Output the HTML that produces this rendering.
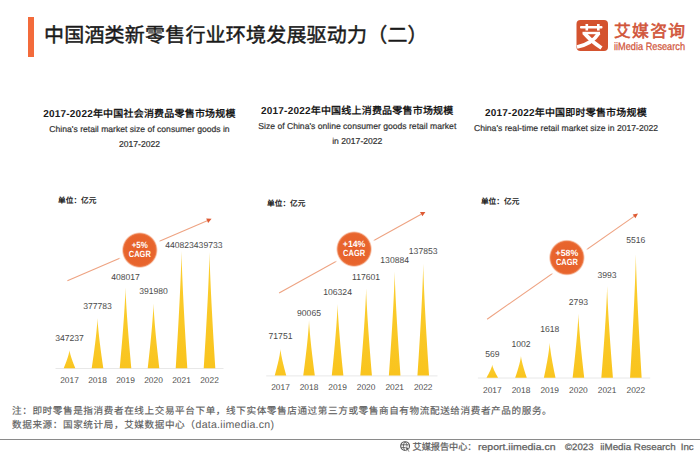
<!DOCTYPE html>
<html lang="zh-CN"><head><meta charset="utf-8">
<style>
html,body{margin:0;padding:0;background:#fff;}
body{width:700px;height:455px;overflow:hidden;position:relative;font-family:"Liberation Sans",sans-serif;text-rendering:geometricPrecision;}
svg{position:absolute;left:0;top:0;}
text{font-family:"Liberation Sans",sans-serif;}
.lab{font-size:8.6px;fill:#4a4a4a;}
.yr{font-size:8.4px;fill:#4a4a4a;}
.cg{font-size:9px;font-weight:bold;fill:#fff;}
.unit{font-size:7.7px;font-weight:bold;fill:#222;}
.t{position:absolute;white-space:nowrap;}
#bar{position:absolute;left:28px;top:17px;width:5.8px;height:40px;background:#f36b3b;}
#title{left:44px;top:23.8px;font-size:20px;font-weight:400;-webkit-text-stroke:0.45px #1a1a1a;letter-spacing:0.2px;color:#1a1a1a;line-height:24px;}
.ct{position:absolute;text-align:center;white-space:nowrap;color:#222;}
.ct b{display:block;font-size:10px;font-weight:bold;line-height:14px;color:#1a1a1a;letter-spacing:0.2px;}
.ct span{display:block;font-size:8.6px;line-height:15.5px;color:#333;-webkit-text-stroke:0.2px #333;}
.note{left:12px;font-size:9.6px;line-height:14.5px;color:#5c5c5c;letter-spacing:0.6px;-webkit-text-stroke:0.15px #5c5c5c;}
.note i{line-height:8px;font-style:normal;font-size:10.6px;letter-spacing:0.25px;-webkit-text-stroke:0;}
#hr{position:absolute;left:0;top:438.5px;width:700px;height:1.5px;background:#8a8a8a;}
.ft{font-size:9.2px;fill:#606060;stroke:#606060;stroke-width:0.25px;}
.lg{fill:#d1553a;stroke:#d1553a;}
</style></head><body>
<div id="bar"></div>
<div class="t" id="title">中国酒类新零售行业环境发展驱动力（二）</div>
<div class="ct" style="left:39.5px;top:107.7px;width:200px;"><b>2017-2022年中国社会消费品零售市场规模</b><span>China's retail market size of consumer goods in<br>2017-2022</span></div>
<div class="ct" style="left:257.3px;top:104.6px;width:200px;"><b>2017-2022年中国线上消费品零售市场规模</b><span>Size of China's online consumer goods retail market<br>in 2017-2022</span></div>
<div class="ct" style="left:466px;top:106.7px;width:200px;"><b>2017-2022年中国即时零售市场规模</b><span>China's real-time retail market size in 2017-2022</span></div>
<div class="t note" style="top:404.9px">注：即时零售是指消费者在线上交易平台下单，线下实体零售店通过第三方或零售商自有物流配送给消费者产品的服务。</div><div class="t note" style="top:419.4px">数据来源：国家统计局，艾媒数据中心（<i>data.iimedia.cn)</i></div>
<div id="hr"></div>
<svg width="700" height="455" viewBox="0 0 700 455">
<defs>
<linearGradient id="yg" x1="0" y1="0" x2="0" y2="1"><stop offset="0" stop-color="#fbce30"/><stop offset="1" stop-color="#f9c41e"/></linearGradient>
<radialGradient id="og" cx="0.5" cy="0.5" r="0.5"><stop offset="0" stop-color="#e6602a"/><stop offset="0.84" stop-color="#e8652d"/><stop offset="0.9" stop-color="#ec7845"/><stop offset="1" stop-color="#f7c2a8" stop-opacity="0"/></radialGradient>
<radialGradient id="wh" cx="0.5" cy="0.5" r="0.5"><stop offset="0.9" stop-color="#fff"/><stop offset="1" stop-color="#fff" stop-opacity="0"/></radialGradient>
</defs>
<!-- logo -->
<rect x="576.5" y="20" width="31.5" height="31" rx="4" fill="#d4532f"/>
<rect x="580" y="26" width="22.5" height="2.6" rx="1" fill="#fff"/>
<rect x="585.5" y="24" width="2.6" height="6.5" fill="#fff"/>
<rect x="597" y="24" width="2.6" height="6.5" fill="#fff"/>
<path d="M582.5,33 L600,33" stroke="#fff" stroke-width="2.4" fill="none"/>
<path d="M584,33 Q592,42 601.5,48" stroke="#fff" stroke-width="3.8" fill="none"/>
<path d="M599,33 Q592,44 577,47" stroke="#fff" stroke-width="3.6" fill="none"/>
<text x="614" y="37.3" class="lg" stroke-width="0.6" font-size="16.8" textLength="71" lengthAdjust="spacing">艾媒咨询</text>
<text x="614" y="49.7" class="lg" stroke-width="0.25" font-size="10.8" textLength="71" lengthAdjust="spacingAndGlyphs">iiMedia Research</text>
<!-- footer -->
<g transform="translate(400,441.2)" fill="none" stroke="#5a5a5a" stroke-width="1.15">
<circle cx="5.1" cy="4.9" r="4.4"/><path d="M1,3.6 H8.5 M1.2,6.4 H6 M5.1,0.6 C2.8,3 2.8,7 5.1,9.2 M5.1,0.6 C7,2.5 7.2,4.5 6.8,5.5" stroke-width="0.9"/>
<path d="M5.6,5.2 L10.2,7.6 L8.2,8.3 L9.6,10.2 L8.8,10.7 L7.4,8.9 L6.2,10.2 Z" fill="#5a5a5a" stroke="#fff" stroke-width="0.5"/>
</g>
<text x="412.5" y="449.5" class="ft" textLength="64" lengthAdjust="spacingAndGlyphs">艾媒报告中心：</text>
<text x="478" y="449.5" class="ft" textLength="77.5" lengthAdjust="spacingAndGlyphs">report.iimedia.cn</text>
<text x="565" y="449.5" class="ft" textLength="28.5" lengthAdjust="spacingAndGlyphs">©2023</text>
<text x="600.2" y="449.5" class="ft" textLength="75.5" lengthAdjust="spacingAndGlyphs">iiMedia Research</text>
<text x="680.7" y="449.5" class="ft" textLength="13" lengthAdjust="spacingAndGlyphs">Inc</text>
<line x1="55.5" y1="368.5" x2="223.5" y2="368.5" stroke="#e8e8e8" stroke-width="1"/>
<path d="M75.30,368.20 L74.83,367.07 L74.38,365.95 L73.93,364.82 L73.49,363.70 L73.06,362.57 L72.65,361.45 L72.25,360.32 L71.86,359.20 L71.48,358.07 L71.12,356.95 L70.78,355.82 L70.46,354.70 L70.16,353.57 L69.89,352.45 L69.66,351.32 L69.50,350.20 L69.34,351.32 L69.11,352.45 L68.84,353.57 L68.54,354.70 L68.22,355.82 L67.88,356.95 L67.52,358.07 L67.14,359.20 L66.75,360.32 L66.35,361.45 L65.94,362.57 L65.51,363.70 L65.07,364.82 L64.62,365.95 L64.17,367.07 L63.70,368.20 Z" fill="url(#yg)"/>
<text x="69.5" y="341.4" class="lab" text-anchor="middle">347237</text>
<text x="69.5" y="382.9" class="yr" text-anchor="middle">2017</text>
<path d="M103.30,368.20 L102.83,365.07 L102.38,361.95 L101.93,358.82 L101.49,355.70 L101.06,352.57 L100.65,349.45 L100.25,346.32 L99.86,343.20 L99.48,340.07 L99.12,336.95 L98.78,333.82 L98.46,330.70 L98.16,327.57 L97.89,324.45 L97.66,321.32 L97.50,318.20 L97.34,321.32 L97.11,324.45 L96.84,327.57 L96.54,330.70 L96.22,333.82 L95.88,336.95 L95.52,340.07 L95.14,343.20 L94.75,346.32 L94.35,349.45 L93.94,352.57 L93.51,355.70 L93.07,358.82 L92.62,361.95 L92.17,365.07 L91.70,368.20 Z" fill="url(#yg)"/>
<text x="97.5" y="309.0" class="lab" text-anchor="middle">377783</text>
<text x="97.5" y="382.9" class="yr" text-anchor="middle">2018</text>
<path d="M131.30,368.20 L130.83,363.16 L130.38,358.12 L129.93,353.09 L129.49,348.05 L129.06,343.01 L128.65,337.98 L128.25,332.94 L127.86,327.90 L127.48,322.86 L127.12,317.82 L126.78,312.79 L126.46,307.75 L126.16,302.71 L125.89,297.68 L125.66,292.64 L125.50,287.60 L125.34,292.64 L125.11,297.68 L124.84,302.71 L124.54,307.75 L124.22,312.79 L123.88,317.82 L123.52,322.86 L123.14,327.90 L122.75,332.94 L122.35,337.98 L121.94,343.01 L121.51,348.05 L121.07,353.09 L120.62,358.12 L120.17,363.16 L119.70,368.20 Z" fill="url(#yg)"/>
<text x="125.5" y="280.1" class="lab" text-anchor="middle">408017</text>
<text x="125.5" y="382.9" class="yr" text-anchor="middle">2019</text>
<path d="M159.30,368.20 L158.83,364.16 L158.38,360.12 L157.93,356.09 L157.49,352.05 L157.06,348.01 L156.65,343.98 L156.25,339.94 L155.86,335.90 L155.48,331.86 L155.12,327.82 L154.78,323.79 L154.46,319.75 L154.16,315.71 L153.89,311.68 L153.66,307.64 L153.50,303.60 L153.34,307.64 L153.11,311.68 L152.84,315.71 L152.54,319.75 L152.22,323.79 L151.88,327.82 L151.52,331.86 L151.14,335.90 L150.75,339.94 L150.35,343.98 L149.94,348.01 L149.51,352.05 L149.07,356.09 L148.62,360.12 L148.17,364.16 L147.70,368.20 Z" fill="url(#yg)"/>
<text x="153.5" y="293.5" class="lab" text-anchor="middle">391980</text>
<text x="153.5" y="382.9" class="yr" text-anchor="middle">2020</text>
<path d="M187.30,368.20 L186.83,360.88 L186.38,353.55 L185.93,346.22 L185.49,338.90 L185.06,331.57 L184.65,324.25 L184.25,316.93 L183.86,309.60 L183.48,302.27 L183.12,294.95 L182.78,287.62 L182.46,280.30 L182.16,272.98 L181.89,265.65 L181.66,258.32 L181.50,251.00 L181.34,258.32 L181.11,265.65 L180.84,272.98 L180.54,280.30 L180.22,287.62 L179.88,294.95 L179.52,302.27 L179.14,309.60 L178.75,316.93 L178.35,324.25 L177.94,331.57 L177.51,338.90 L177.07,346.22 L176.62,353.55 L176.17,360.88 L175.70,368.20 Z" fill="url(#yg)"/>
<text x="179.5" y="247.9" class="lab" text-anchor="middle">440823</text>
<text x="181.5" y="382.9" class="yr" text-anchor="middle">2021</text>
<path d="M215.30,368.20 L214.83,360.94 L214.38,353.68 L213.93,346.41 L213.49,339.15 L213.06,331.89 L212.65,324.62 L212.25,317.36 L211.86,310.10 L211.48,302.84 L211.12,295.57 L210.78,288.31 L210.46,281.05 L210.16,273.79 L209.89,266.52 L209.66,259.26 L209.50,252.00 L209.34,259.26 L209.11,266.52 L208.84,273.79 L208.54,281.05 L208.22,288.31 L207.88,295.57 L207.52,302.84 L207.14,310.10 L206.75,317.36 L206.35,324.62 L205.94,331.89 L205.51,339.15 L205.07,346.41 L204.62,353.68 L204.17,360.94 L203.70,368.20 Z" fill="url(#yg)"/>
<text x="208.2" y="247.9" class="lab" text-anchor="middle">439733</text>
<text x="209.5" y="382.9" class="yr" text-anchor="middle">2022</text>
<line x1="67.4" y1="280.7" x2="207.2" y2="220.7" stroke="#eea382" stroke-width="1.1"/>
<path d="M211.6,218.8 L208.1,222.9 L206.2,218.5 Z" fill="#de5a33"/>
<circle cx="139.8" cy="250.1" r="23" fill="url(#wh)"/>
<circle cx="139.8" cy="250.1" r="18.2" fill="url(#og)"/>
<text x="139.8" y="248.3" class="cg" text-anchor="middle" textLength="16.2" lengthAdjust="spacingAndGlyphs">+5%</text>
<text x="139.8" y="257.4" class="cg" text-anchor="middle" textLength="22" lengthAdjust="spacingAndGlyphs">CAGR</text>
<text x="58.0" y="202.9" class="unit">单位：亿元</text>
<line x1="266.2" y1="375.9" x2="437.5" y2="375.9" stroke="#e8e8e8" stroke-width="1"/>
<path d="M286.27,375.60 L285.81,373.94 L285.35,372.27 L284.90,370.61 L284.47,368.95 L284.04,367.29 L283.62,365.62 L283.22,363.96 L282.83,362.30 L282.46,360.64 L282.10,358.97 L281.75,357.31 L281.43,355.65 L281.13,353.99 L280.86,352.32 L280.63,350.66 L280.47,349.00 L280.32,350.66 L280.09,352.32 L279.82,353.99 L279.52,355.65 L279.20,357.31 L278.85,358.97 L278.49,360.64 L278.12,362.30 L277.73,363.96 L277.33,365.62 L276.91,367.29 L276.48,368.95 L276.05,370.61 L275.60,372.27 L275.14,373.94 L274.67,375.60 Z" fill="url(#yg)"/>
<text x="280.5" y="339.3" class="lab" text-anchor="middle">71751</text>
<text x="280.5" y="390.3" class="yr" text-anchor="middle">2017</text>
<path d="M314.82,375.60 L314.36,372.14 L313.90,368.67 L313.45,365.21 L313.02,361.75 L312.59,358.29 L312.17,354.82 L311.77,351.36 L311.38,347.90 L311.01,344.44 L310.65,340.97 L310.30,337.51 L309.98,334.05 L309.68,330.59 L309.41,327.12 L309.18,323.66 L309.02,320.20 L308.87,323.66 L308.64,327.12 L308.37,330.59 L308.07,334.05 L307.75,337.51 L307.40,340.97 L307.04,344.44 L306.67,347.90 L306.28,351.36 L305.88,354.82 L305.46,358.29 L305.03,361.75 L304.60,365.21 L304.15,368.67 L303.69,372.14 L303.22,375.60 Z" fill="url(#yg)"/>
<text x="309.0" y="315.8" class="lab" text-anchor="middle">90065</text>
<text x="309.0" y="390.3" class="yr" text-anchor="middle">2018</text>
<path d="M343.38,375.60 L342.91,371.12 L342.45,366.65 L342.00,362.17 L341.57,357.70 L341.14,353.22 L340.72,348.75 L340.32,344.27 L339.93,339.80 L339.56,335.32 L339.20,330.85 L338.85,326.38 L338.53,321.90 L338.23,317.43 L337.96,312.95 L337.73,308.48 L337.57,304.00 L337.42,308.48 L337.19,312.95 L336.92,317.43 L336.62,321.90 L336.30,326.38 L335.95,330.85 L335.59,335.32 L335.22,339.80 L334.83,344.27 L334.43,348.75 L334.01,353.22 L333.58,357.70 L333.15,362.17 L332.70,366.65 L332.24,371.12 L331.77,375.60 Z" fill="url(#yg)"/>
<text x="337.6" y="294.8" class="lab" text-anchor="middle">106324</text>
<text x="337.6" y="390.3" class="yr" text-anchor="middle">2019</text>
<path d="M371.93,375.60 L371.46,370.14 L371.00,364.67 L370.55,359.21 L370.12,353.75 L369.69,348.29 L369.27,342.82 L368.87,337.36 L368.48,331.90 L368.11,326.44 L367.75,320.97 L367.40,315.51 L367.08,310.05 L366.78,304.59 L366.51,299.12 L366.28,293.66 L366.12,288.20 L365.97,293.66 L365.74,299.12 L365.47,304.59 L365.17,310.05 L364.85,315.51 L364.50,320.97 L364.14,326.44 L363.77,331.90 L363.38,337.36 L362.98,342.82 L362.56,348.29 L362.13,353.75 L361.70,359.21 L361.25,364.67 L360.79,370.14 L360.32,375.60 Z" fill="url(#yg)"/>
<text x="366.1" y="279.7" class="lab" text-anchor="middle">117601</text>
<text x="366.1" y="390.3" class="yr" text-anchor="middle">2020</text>
<path d="M400.47,375.60 L400.01,369.09 L399.55,362.59 L399.10,356.08 L398.67,349.57 L398.24,343.07 L397.82,336.56 L397.42,330.06 L397.03,323.55 L396.66,317.04 L396.30,310.54 L395.95,304.03 L395.63,297.52 L395.33,291.02 L395.06,284.51 L394.83,278.01 L394.67,271.50 L394.52,278.01 L394.29,284.51 L394.02,291.02 L393.72,297.52 L393.40,304.03 L393.05,310.54 L392.69,317.04 L392.32,323.55 L391.93,330.06 L391.53,336.56 L391.11,343.07 L390.68,349.57 L390.25,356.08 L389.80,362.59 L389.34,369.09 L388.87,375.60 Z" fill="url(#yg)"/>
<text x="394.7" y="262.6" class="lab" text-anchor="middle">130884</text>
<text x="394.7" y="390.3" class="yr" text-anchor="middle">2021</text>
<path d="M429.03,375.60 L428.56,368.61 L428.10,361.62 L427.65,354.64 L427.22,347.65 L426.79,340.66 L426.37,333.67 L425.97,326.69 L425.58,319.70 L425.21,312.71 L424.85,305.73 L424.50,298.74 L424.18,291.75 L423.88,284.76 L423.61,277.77 L423.38,270.79 L423.23,263.80 L423.07,270.79 L422.84,277.77 L422.57,284.76 L422.27,291.75 L421.95,298.74 L421.60,305.73 L421.24,312.71 L420.87,319.70 L420.48,326.69 L420.08,333.67 L419.66,340.66 L419.23,347.65 L418.80,354.64 L418.35,361.62 L417.89,368.61 L417.43,375.60 Z" fill="url(#yg)"/>
<text x="423.2" y="253.8" class="lab" text-anchor="middle">137853</text>
<text x="423.2" y="390.3" class="yr" text-anchor="middle">2022</text>
<line x1="279.1" y1="293.0" x2="421.2" y2="214.2" stroke="#eea382" stroke-width="1.1"/>
<path d="M425.4,211.9 L422.4,216.3 L420.0,212.1 Z" fill="#de5a33"/>
<circle cx="354.1" cy="249.1" r="23" fill="url(#wh)"/>
<circle cx="354.1" cy="249.1" r="18.2" fill="url(#og)"/>
<text x="354.1" y="247.3" class="cg" text-anchor="middle" textLength="22.5" lengthAdjust="spacingAndGlyphs">+14%</text>
<text x="354.1" y="256.4" class="cg" text-anchor="middle" textLength="22" lengthAdjust="spacingAndGlyphs">CAGR</text>
<text x="267.0" y="205.9" class="unit">单位：亿元</text>
<line x1="477.9" y1="378.0" x2="650.2" y2="378.0" stroke="#e8e8e8" stroke-width="1"/>
<path d="M498.06,377.70 L497.59,376.89 L497.13,376.09 L496.69,375.28 L496.25,374.48 L495.82,373.67 L495.41,372.86 L495.00,372.06 L494.61,371.25 L494.24,370.44 L493.88,369.64 L493.54,368.83 L493.21,368.02 L492.92,367.22 L492.65,366.41 L492.42,365.61 L492.26,364.80 L492.10,365.61 L491.87,366.41 L491.60,367.22 L491.30,368.02 L490.98,368.83 L490.64,369.64 L490.28,370.44 L489.90,371.25 L489.51,372.06 L489.11,372.86 L488.69,373.67 L488.27,374.48 L487.83,375.28 L487.38,376.09 L486.93,376.89 L486.46,377.70 Z" fill="url(#yg)"/>
<text x="492.3" y="356.9" class="lab" text-anchor="middle">569</text>
<text x="492.3" y="392.9" class="yr" text-anchor="middle">2017</text>
<path d="M526.77,377.70 L526.31,376.34 L525.85,374.99 L525.40,373.63 L524.97,372.27 L524.54,370.92 L524.12,369.56 L523.72,368.21 L523.33,366.85 L522.96,365.49 L522.60,364.14 L522.25,362.78 L521.93,361.43 L521.63,360.07 L521.36,358.71 L521.13,357.36 L520.98,356.00 L520.82,357.36 L520.59,358.71 L520.32,360.07 L520.02,361.43 L519.70,362.78 L519.35,364.14 L518.99,365.49 L518.62,366.85 L518.23,368.21 L517.83,369.56 L517.41,370.92 L516.98,372.27 L516.55,373.63 L516.10,374.99 L515.64,376.34 L515.18,377.70 Z" fill="url(#yg)"/>
<text x="521.0" y="347.2" class="lab" text-anchor="middle">1002</text>
<text x="521.0" y="392.9" class="yr" text-anchor="middle">2018</text>
<path d="M555.49,377.70 L555.02,375.52 L554.57,373.34 L554.12,371.16 L553.68,368.98 L553.26,366.79 L552.84,364.61 L552.44,362.43 L552.05,360.25 L551.67,358.07 L551.31,355.89 L550.97,353.71 L550.65,351.52 L550.35,349.34 L550.08,347.16 L549.85,344.98 L549.69,342.80 L549.53,344.98 L549.30,347.16 L549.03,349.34 L548.74,351.52 L548.41,353.71 L548.07,355.89 L547.71,358.07 L547.34,360.25 L546.95,362.43 L546.54,364.61 L546.13,366.79 L545.70,368.98 L545.26,371.16 L544.82,373.34 L544.36,375.52 L543.89,377.70 Z" fill="url(#yg)"/>
<text x="549.7" y="332.3" class="lab" text-anchor="middle">1618</text>
<text x="549.7" y="392.9" class="yr" text-anchor="middle">2019</text>
<path d="M584.21,377.70 L583.74,373.71 L583.28,369.71 L582.84,365.72 L582.40,361.73 L581.97,357.73 L581.56,353.74 L581.15,349.74 L580.76,345.75 L580.39,341.76 L580.03,337.76 L579.69,333.77 L579.36,329.77 L579.07,325.78 L578.80,321.79 L578.57,317.79 L578.41,313.80 L578.25,317.79 L578.02,321.79 L577.75,325.78 L577.45,329.77 L577.13,333.77 L576.79,337.76 L576.43,341.76 L576.05,345.75 L575.66,349.74 L575.26,353.74 L574.84,357.73 L574.42,361.73 L573.98,365.72 L573.53,369.71 L573.08,373.71 L572.61,377.70 Z" fill="url(#yg)"/>
<text x="578.4" y="305.0" class="lab" text-anchor="middle">2793</text>
<text x="578.4" y="392.9" class="yr" text-anchor="middle">2020</text>
<path d="M612.92,377.70 L612.46,371.97 L612.00,366.24 L611.55,360.51 L611.12,354.77 L610.69,349.04 L610.27,343.31 L609.87,337.58 L609.48,331.85 L609.11,326.12 L608.75,320.39 L608.40,314.66 L608.08,308.93 L607.78,303.19 L607.51,297.46 L607.28,291.73 L607.12,286.00 L606.97,291.73 L606.74,297.46 L606.47,303.19 L606.17,308.93 L605.85,314.66 L605.50,320.39 L605.14,326.12 L604.77,331.85 L604.38,337.58 L603.98,343.31 L603.56,349.04 L603.13,354.77 L602.70,360.51 L602.25,366.24 L601.79,371.97 L601.33,377.70 Z" fill="url(#yg)"/>
<text x="607.1" y="278.1" class="lab" text-anchor="middle">3993</text>
<text x="607.1" y="392.9" class="yr" text-anchor="middle">2021</text>
<path d="M641.64,377.70 L641.17,369.99 L640.72,362.27 L640.27,354.56 L639.83,346.85 L639.41,339.14 L638.99,331.43 L638.59,323.71 L638.20,316.00 L637.82,308.29 L637.46,300.57 L637.12,292.86 L636.80,285.15 L636.50,277.44 L636.23,269.73 L636.00,262.01 L635.84,254.30 L635.68,262.01 L635.45,269.73 L635.18,277.44 L634.89,285.15 L634.56,292.86 L634.22,300.57 L633.86,308.29 L633.49,316.00 L633.10,323.71 L632.69,331.43 L632.28,339.14 L631.85,346.85 L631.41,354.56 L630.97,362.27 L630.51,369.99 L630.04,377.70 Z" fill="url(#yg)"/>
<text x="635.8" y="242.9" class="lab" text-anchor="middle">5516</text>
<text x="635.8" y="392.9" class="yr" text-anchor="middle">2022</text>
<line x1="487.1" y1="319.2" x2="634.1" y2="216.4" stroke="#eea382" stroke-width="1.1"/>
<path d="M638.0,213.6 L635.4,218.3 L632.7,214.4 Z" fill="#de5a33"/>
<circle cx="566.9" cy="257.6" r="23" fill="url(#wh)"/>
<circle cx="566.9" cy="257.6" r="18.2" fill="url(#og)"/>
<text x="566.9" y="255.8" class="cg" text-anchor="middle" textLength="22.7" lengthAdjust="spacingAndGlyphs">+58%</text>
<text x="566.9" y="264.9" class="cg" text-anchor="middle" textLength="22" lengthAdjust="spacingAndGlyphs">CAGR</text>
<text x="480.9" y="203.7" class="unit">单位：亿元</text>
</svg>
</body></html>
